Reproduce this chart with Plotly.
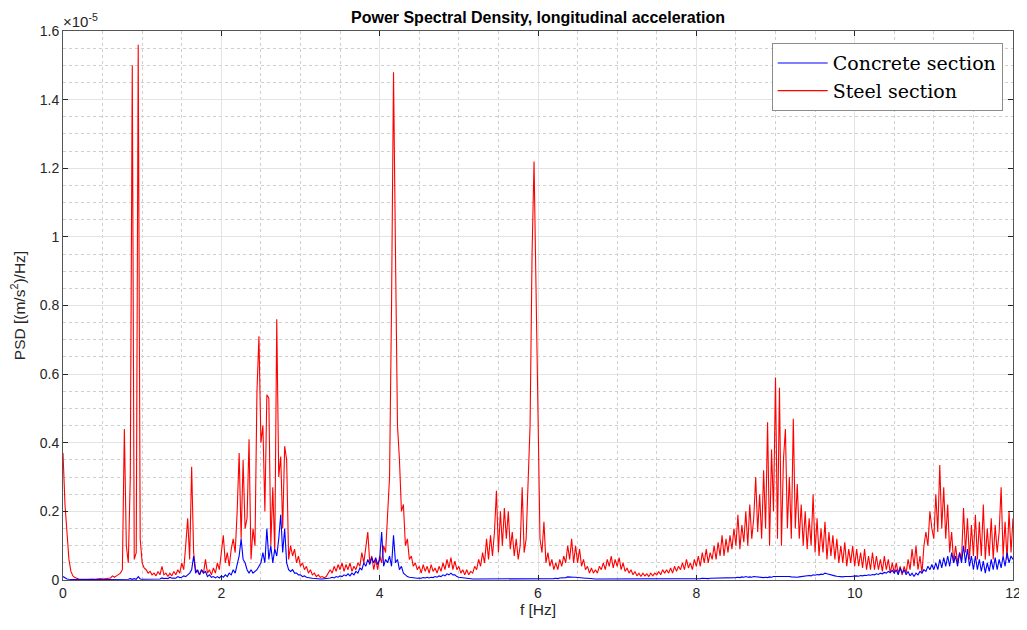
import numpy as np
import plotly.graph_objects as go

# Frequency resolution of the PSD estimate (Hz) and number of bins (0 .. 12 Hz)
df = 0.025
n_bins = 481
freq = np.round(np.arange(n_bins) * df, 3)

# PSD values in units of 1e-5 (m/s^2)^2/Hz; one row per 0.5 Hz
steel_psd = [
    0.37, 0.22, 0.14, 0.06, 0.025, 0.012, 0.007, 0.004, 0.003, 0.002, 0.003, 0.002, 0.002, 0.003, 0.002, 0.003, 0.002, 0.003, 0.003, 0.004,
    0.003, 0.004, 0.003, 0.004, 0.006, 0.012, 0.008, 0.012, 0.015, 0.02, 0.03, 0.44, 0.10, 0.05, 0.30, 1.50, 0.06, 0.08, 1.56, 0.12,
    0.05, 0.035, 0.03, 0.02, 0.025, 0.015, 0.02, 0.012, 0.025, 0.015, 0.04, 0.015, 0.02, 0.01, 0.02, 0.012, 0.025, 0.015, 0.03, 0.02,
    0.05, 0.03, 0.10, 0.18, 0.06, 0.33, 0.08, 0.03, 0.025, 0.015, 0.03, 0.02, 0.06, 0.02, 0.03, 0.015, 0.035, 0.02, 0.05, 0.03,
    0.08, 0.13, 0.05, 0.08, 0.04, 0.09, 0.12, 0.08, 0.20, 0.37, 0.12, 0.35, 0.15, 0.18, 0.41, 0.06, 0.15, 0.10, 0.55, 0.71,
    0.40, 0.45, 0.20, 0.54, 0.53, 0.10, 0.27, 0.08, 0.76, 0.30, 0.36, 0.15, 0.39, 0.35, 0.06, 0.10, 0.07, 0.09, 0.05, 0.07,
    0.04, 0.05, 0.03, 0.04, 0.02, 0.03, 0.015, 0.02, 0.01, 0.015, 0.008, 0.01, 0.006, 0.01, 0.02, 0.03, 0.02, 0.04, 0.025, 0.045,
    0.03, 0.05, 0.025, 0.045, 0.03, 0.05, 0.025, 0.04, 0.03, 0.05, 0.04, 0.08, 0.05, 0.09, 0.14, 0.05, 0.07, 0.03, 0.06, 0.03,
    0.07, 0.05, 0.10, 0.08, 0.18, 0.30, 0.80, 1.48, 0.95, 0.45, 0.35, 0.20, 0.22, 0.10, 0.12, 0.06, 0.07, 0.04, 0.05, 0.03,
    0.04, 0.02, 0.045, 0.025, 0.04, 0.02, 0.045, 0.025, 0.035, 0.02, 0.04, 0.025, 0.05, 0.03, 0.06, 0.035, 0.065, 0.03, 0.055, 0.03,
    0.04, 0.02, 0.03, 0.015, 0.03, 0.015, 0.025, 0.02, 0.04, 0.03, 0.06, 0.04, 0.08, 0.05, 0.12, 0.06, 0.13, 0.07, 0.14, 0.26,
    0.08, 0.20, 0.10, 0.21, 0.12, 0.20, 0.09, 0.14, 0.07, 0.12, 0.06, 0.10, 0.27, 0.08, 0.12, 0.30, 0.45, 0.95, 1.22, 0.85,
    0.45, 0.12, 0.08, 0.17, 0.05, 0.08, 0.04, 0.06, 0.03, 0.05, 0.03, 0.06, 0.04, 0.07, 0.05, 0.10, 0.06, 0.12, 0.05, 0.10,
    0.05, 0.09, 0.04, 0.06, 0.03, 0.04, 0.02, 0.035, 0.02, 0.03, 0.02, 0.04, 0.03, 0.05, 0.03, 0.06, 0.04, 0.07, 0.035, 0.06,
    0.04, 0.065, 0.03, 0.05, 0.025, 0.035, 0.02, 0.03, 0.015, 0.025, 0.012, 0.02, 0.01, 0.02, 0.012, 0.018, 0.01, 0.02, 0.012, 0.02,
    0.015, 0.025, 0.015, 0.03, 0.02, 0.03, 0.02, 0.035, 0.02, 0.04, 0.025, 0.04, 0.03, 0.05, 0.03, 0.06, 0.035, 0.05, 0.03, 0.06,
    0.04, 0.07, 0.04, 0.08, 0.05, 0.09, 0.05, 0.08, 0.06, 0.10, 0.06, 0.11, 0.07, 0.13, 0.07, 0.12, 0.08, 0.13, 0.09, 0.15,
    0.10, 0.19, 0.09, 0.16, 0.11, 0.20, 0.10, 0.22, 0.12, 0.18, 0.30, 0.14, 0.25, 0.12, 0.32, 0.15, 0.46, 0.10, 0.38, 0.20,
    0.59, 0.12, 0.56, 0.10, 0.35, 0.44, 0.15, 0.30, 0.12, 0.47, 0.15, 0.28, 0.12, 0.22, 0.10, 0.20, 0.09, 0.18, 0.10, 0.25,
    0.08, 0.18, 0.07, 0.15, 0.08, 0.17, 0.06, 0.14, 0.07, 0.13, 0.06, 0.12, 0.05, 0.10, 0.05, 0.11, 0.04, 0.09, 0.05, 0.10,
    0.04, 0.09, 0.04, 0.08, 0.035, 0.09, 0.03, 0.07, 0.03, 0.08, 0.03, 0.07, 0.03, 0.06, 0.025, 0.07, 0.03, 0.06, 0.02, 0.05,
    0.02, 0.05, 0.02, 0.04, 0.015, 0.04, 0.02, 0.06, 0.03, 0.09, 0.04, 0.10, 0.03, 0.07, 0.02, 0.10, 0.14, 0.10, 0.20, 0.15,
    0.12, 0.25, 0.14, 0.335, 0.15, 0.27, 0.12, 0.22, 0.08, 0.14, 0.05, 0.10, 0.05, 0.08, 0.06, 0.21, 0.08, 0.18, 0.06, 0.16,
    0.07, 0.19, 0.06, 0.17, 0.07, 0.22, 0.06, 0.15, 0.07, 0.18, 0.06, 0.16, 0.08, 0.14, 0.27, 0.07, 0.17, 0.06, 0.20, 0.08,
    0.18,
]

concrete_psd = [
    0.01, 0.006, 0.003, 0.002, 0.001, 0.001, 0.001, 0.001, 0.001, 0.001, 0.001, 0.001, 0.001, 0.001, 0.001, 0.001, 0.001, 0.001, 0.001, 0.001,
    0.001, 0.001, 0.001, 0.001, 0.001, 0.001, 0.001, 0.001, 0.001, 0.001, 0.001, 0.002, 0.001, 0.002, 0.004, 0.002, 0.004, 0.002, 0.01, 0.003,
    0.002, 0.002, 0.003, 0.002, 0.003, 0.002, 0.003, 0.003, 0.004, 0.003, 0.006, 0.004, 0.005, 0.004, 0.008, 0.005, 0.006, 0.005, 0.01, 0.007,
    0.008, 0.012, 0.01, 0.015, 0.02, 0.03, 0.07, 0.02, 0.03, 0.015, 0.03, 0.02, 0.025, 0.01, 0.015, 0.008, 0.01, 0.006, 0.01, 0.006,
    0.012, 0.008, 0.015, 0.01, 0.02, 0.015, 0.03, 0.02, 0.05, 0.07, 0.12, 0.06, 0.05, 0.03, 0.02, 0.03, 0.02, 0.025, 0.03, 0.04,
    0.05, 0.08, 0.05, 0.15, 0.06, 0.10, 0.05, 0.09, 0.07, 0.12, 0.19, 0.08, 0.15, 0.05, 0.03, 0.025, 0.03, 0.02, 0.02, 0.015,
    0.015, 0.01, 0.012, 0.008, 0.008, 0.006, 0.005, 0.004, 0.004, 0.003, 0.003, 0.003, 0.003, 0.004, 0.005, 0.006, 0.008, 0.006, 0.01, 0.008,
    0.012, 0.01, 0.015, 0.012, 0.018, 0.012, 0.02, 0.015, 0.025, 0.02, 0.035, 0.03, 0.05, 0.04, 0.06, 0.045, 0.065, 0.05, 0.065, 0.045,
    0.06, 0.14, 0.04, 0.06, 0.05, 0.07, 0.04, 0.13, 0.05, 0.06, 0.03, 0.04, 0.02, 0.015, 0.01, 0.008, 0.007, 0.005, 0.006, 0.005,
    0.006, 0.005, 0.007, 0.006, 0.008, 0.006, 0.008, 0.007, 0.01, 0.008, 0.012, 0.01, 0.015, 0.012, 0.018, 0.015, 0.02, 0.015, 0.015, 0.01,
    0.008, 0.007, 0.006, 0.005, 0.005, 0.004, 0.004, 0.003, 0.003, 0.003, 0.003, 0.002, 0.002, 0.002, 0.002, 0.002, 0.002, 0.002, 0.002, 0.002,
    0.002, 0.002, 0.002, 0.002, 0.002, 0.002, 0.002, 0.002, 0.002, 0.002, 0.002, 0.002, 0.002, 0.002, 0.002, 0.002, 0.002, 0.002, 0.002, 0.002,
    0.002, 0.002, 0.002, 0.002, 0.003, 0.003, 0.003, 0.004, 0.004, 0.005, 0.004, 0.006, 0.006, 0.008, 0.007, 0.009, 0.008, 0.009, 0.008, 0.008,
    0.007, 0.007, 0.006, 0.006, 0.005, 0.005, 0.004, 0.004, 0.003, 0.003, 0.003, 0.003, 0.003, 0.003, 0.003, 0.003, 0.003, 0.003, 0.003, 0.003,
    0.003, 0.003, 0.002, 0.003, 0.002, 0.003, 0.002, 0.002, 0.002, 0.002, 0.002, 0.002, 0.002, 0.002, 0.002, 0.002, 0.002, 0.002, 0.002, 0.002,
    0.002, 0.002, 0.002, 0.003, 0.002, 0.003, 0.003, 0.003, 0.003, 0.003, 0.003, 0.003, 0.003, 0.004, 0.003, 0.004, 0.003, 0.004, 0.004, 0.004,
    0.004, 0.004, 0.004, 0.005, 0.004, 0.005, 0.004, 0.005, 0.005, 0.006, 0.005, 0.006, 0.005, 0.006, 0.006, 0.007, 0.006, 0.007, 0.006, 0.007,
    0.007, 0.008, 0.007, 0.009, 0.008, 0.01, 0.008, 0.009, 0.008, 0.01, 0.009, 0.008, 0.007, 0.008, 0.007, 0.008, 0.007, 0.009, 0.008, 0.01,
    0.01, 0.012, 0.011, 0.012, 0.01, 0.012, 0.011, 0.01, 0.009, 0.008, 0.009, 0.008, 0.009, 0.01, 0.011, 0.012, 0.011, 0.013, 0.012, 0.015,
    0.014, 0.016, 0.015, 0.017, 0.016, 0.02, 0.018, 0.016, 0.015, 0.013, 0.012, 0.011, 0.01, 0.01, 0.009, 0.01, 0.009, 0.01, 0.01, 0.011,
    0.01, 0.012, 0.011, 0.013, 0.012, 0.014, 0.013, 0.015, 0.014, 0.016, 0.015, 0.018, 0.016, 0.02, 0.018, 0.022, 0.02, 0.025, 0.022, 0.028,
    0.02, 0.03, 0.015, 0.035, 0.02, 0.03, 0.015, 0.025, 0.012, 0.02, 0.01, 0.02, 0.015, 0.025, 0.02, 0.03, 0.025, 0.04, 0.03, 0.045,
    0.03, 0.05, 0.03, 0.06, 0.035, 0.065, 0.04, 0.07, 0.04, 0.08, 0.05, 0.07, 0.04, 0.08, 0.05, 0.10, 0.05, 0.09, 0.04, 0.07,
    0.03, 0.07, 0.03, 0.06, 0.025, 0.055, 0.02, 0.05, 0.025, 0.06, 0.03, 0.065, 0.03, 0.06, 0.035, 0.07, 0.04, 0.08, 0.05, 0.07,
    0.06,
]

x_ticks = [0, 2, 4, 6, 8, 10, 12]
y_ticks = [0, 0.2, 0.4, 0.6, 0.8, 1.0, 1.2, 1.4, 1.6]
y_tick_labels = ["0", "0.2", "0.4", "0.6", "0.8", "1", "1.2", "1.4", "1.6"]

fig = go.Figure()
fig.add_trace(go.Scatter(
    x=freq, y=steel_psd, mode="lines", name="Steel section",
    line=dict(color="#ff0000", width=1.1), legendrank=2,
))
fig.add_trace(go.Scatter(
    x=freq, y=concrete_psd, mode="lines", name="Concrete section",
    line=dict(color="#0000ff", width=1.1), legendrank=1,
))

tick_font = dict(family="Liberation Sans, Arial, sans-serif", size=14, color="#262626")
label_font = dict(family="Liberation Sans, Arial, sans-serif", size=15.5, color="#262626")

# The page adds an 8 px body margin, so the figure is 8 px smaller than the window
fig.update_layout(
    width=1019, height=622,
    margin=dict(l=55, r=14, t=23, b=50, autoexpand=False),
    paper_bgcolor="white", plot_bgcolor="white",
    title=dict(
        text="<b>Power Spectral Density, longitudinal acceleration</b>",
        x=0.5, xref="paper", xanchor="center", y=1 - 9 / 622, yanchor="middle",
        font=dict(family="Liberation Sans, Arial, sans-serif", size=16, color="black"),
    ),
    legend=dict(
        x=0.746, y=0.978, xanchor="left", yanchor="top",
        bgcolor="white", bordercolor="#8c8c8c", borderwidth=1,
        font=dict(family="DejaVu Serif, Liberation Serif, serif", size=19, color="black"),
        tracegroupgap=0, itemwidth=50,
    ),
    showlegend=True,
)

fig.update_xaxes(
    range=[0, 12], tickvals=x_ticks, ticks="inside", ticklen=5, tickcolor="#262626",
    showline=True, linecolor="#555555", linewidth=1, mirror="ticks",
    showgrid=True, gridcolor="#e3e3e3", gridwidth=1, zeroline=False, automargin=False,
    minor=dict(dtick=0.5, showgrid=True, gridcolor="#cfcfcf", griddash="dot", gridwidth=1, ticks=""),
    tickfont=tick_font,
    title=dict(text="f [Hz]", font=label_font, standoff=2),
)
fig.update_yaxes(
    range=[0, 1.6], tickvals=y_ticks, ticktext=y_tick_labels, ticks="inside", ticklen=5, tickcolor="#262626",
    showline=True, linecolor="#555555", linewidth=1, mirror="ticks",
    showgrid=True, gridcolor="#e3e3e3", gridwidth=1, zeroline=False, automargin=False,
    minor=dict(dtick=0.05, showgrid=True, gridcolor="#cfcfcf", griddash="dot", gridwidth=1, ticks=""),
    tickfont=tick_font,
    title=dict(text="PSD [(m/s<sup>2</sup>)/Hz]", font=label_font, standoff=10),
)

fig.add_annotation(
    text="×10<sup>-5</sup>", xref="paper", yref="paper", x=0, y=1, xanchor="left", yanchor="bottom",
    showarrow=False, font=dict(family="Liberation Sans, Arial, sans-serif", size=15, color="#262626"),
    xshift=-2, yshift=-1,
)

fig.write_html("out.html")
